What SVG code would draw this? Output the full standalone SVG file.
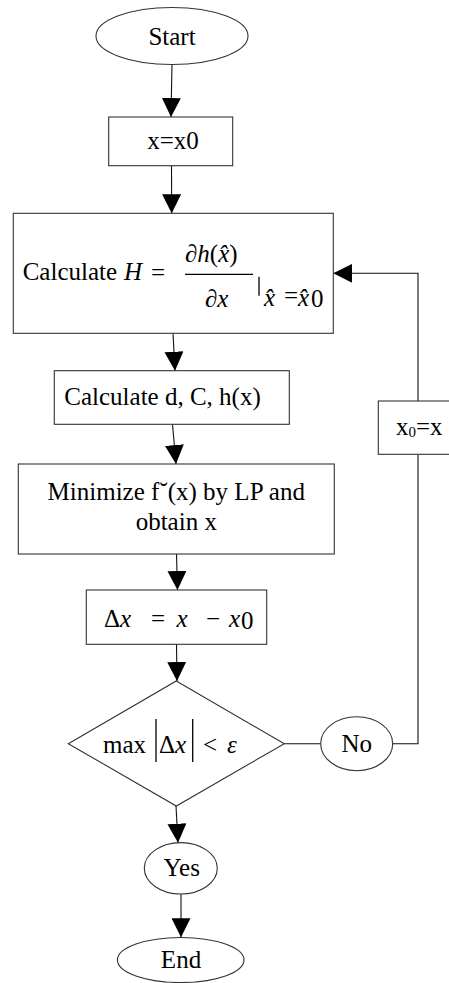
<svg xmlns="http://www.w3.org/2000/svg" width="449" height="983" viewBox="0 0 449 983">
<defs>
<marker id="ah" markerUnits="userSpaceOnUse" markerWidth="19" markerHeight="19" refX="18" refY="9" orient="auto" viewBox="0 0 18 18">
<path d="M0,0 L18,9 L0,18 z" fill="#000"/>
</marker>
<style>
.sh{fill:#fff;stroke:#333;stroke-width:1.1}
.ln{fill:none;stroke:#111;stroke-width:1.1}
.ar{fill:none;stroke:#111;stroke-width:1.1;marker-end:url(#ah)}
text{font-family:"Liberation Serif","Times New Roman",serif;font-size:25px;fill:#000}
.c{text-anchor:middle}
.i{font-style:italic}
</style>
</defs>
<rect width="449" height="983" fill="#fff"/>
<g id="connectors">
<path class="ar" d="M172,64 L171,117"/>
<path class="ar" d="M171.5,166 L171.7,213.3"/>
<path class="ar" d="M173,333.3 L175,370.7"/>
<path class="ar" d="M172.5,424.3 L176,464"/>
<path class="ar" d="M176.5,554 L177.5,590"/>
<path class="ar" d="M176.5,644.3 L177,681"/>
<path class="ar" d="M176,806 L178,842.7"/>
<path class="ar" d="M181,894 L181,937.3"/>
<path class="ln" d="M284.3,743.7 H320.7"/>
<path class="ln" d="M392.7,743.7 H418 V454.3"/>
<path class="ar" d="M418,401 V273.3 H333.3"/>
</g>
<g id="start">
<ellipse class="sh" cx="172" cy="36" rx="76" ry="28.5"/>
<text class="c" x="172" y="45">Start</text>
</g>
<g id="init">
<rect class="sh" x="108.7" y="117" width="124" height="48.7"/>
<text class="c" x="173" y="149">x=x0</text>
</g>
<g id="calcH">
<rect class="sh" x="13.3" y="213.3" width="320" height="120"/>
<text x="22.7" y="280" font-size="26">Calculate</text>
<text class="i" x="124" y="280" font-size="26">H</text>
<text x="151" y="281" font-size="28">=</text>
<text x="185" y="262" font-size="26"><tspan class="i">∂h</tspan>(<tspan class="i">x&#x302;</tspan>)</text>
<line x1="185" y1="274.3" x2="253" y2="274.3" stroke="#000" stroke-width="1.3"/>
<text class="i" x="205" y="306.7" font-size="26">∂x</text>
<line x1="259" y1="276.7" x2="259" y2="295.7" stroke="#000" stroke-width="1.3"/>
<text class="i" x="264" y="306" font-size="23">x&#x302;</text>
<text x="284" y="304" font-size="12">=</text>
<text class="i" x="298" y="306" font-size="23">x&#x302;</text>
<text x="311" y="307" font-size="11">0</text>
</g>
<g id="calcD">
<rect class="sh" x="54.3" y="370.7" width="235" height="53.6"/>
<text x="64.3" y="405">Calculate d, C, h(x)</text>
</g>
<g id="minimize">
<rect class="sh" x="18.3" y="464" width="316" height="90"/>
<text class="c" x="176.3" y="500">Minimize f˘(x) by LP and</text>
<text class="c" x="176.3" y="530">obtain x</text>
</g>
<g id="delta">
<rect class="sh" x="86.3" y="590" width="180.4" height="54.3"/>
<text x="104" y="627" font-size="29">Δ<tspan class="i">x</tspan></text>
<text x="151" y="627" font-size="29">=</text>
<text class="i" x="176.5" y="627" font-size="29">x</text>
<text x="206" y="627" font-size="29">−</text>
<text class="i" x="229" y="627" font-size="29">x</text>
<text x="241" y="629" font-size="20">0</text>
</g>
<g id="decision">
<path class="sh" d="M176.3,681 L284.3,743.7 L176.3,806 L68.3,743.7 Z"/>
<text x="103" y="753.3" font-size="27">max</text>
<line x1="156" y1="719" x2="156" y2="762" stroke="#000" stroke-width="1.3"/>
<text x="159" y="753.3" font-size="27">Δ<tspan class="i">x</tspan></text>
<line x1="192.7" y1="719" x2="192.7" y2="762" stroke="#000" stroke-width="1.3"/>
<text x="203" y="753.3" font-size="27">&lt;</text>
<text class="i" x="227" y="753.3" font-size="27">ε</text>
</g>
<g id="no">
<ellipse class="sh" cx="356.7" cy="743.7" rx="36" ry="27"/>
<text class="c" x="356.7" y="751.7">No</text>
</g>
<g id="update">
<rect class="sh" x="378.3" y="401" width="90" height="53.3"/>
<text x="396" y="435" font-size="21">x<tspan font-size="15" dy="2">0</tspan><tspan dy="-2">=x</tspan></text>
</g>
<g id="yes">
<ellipse class="sh" cx="180.8" cy="868.3" rx="36.5" ry="25.7"/>
<text class="c" x="181.7" y="876">Yes</text>
</g>
<g id="end">
<ellipse class="sh" cx="180.7" cy="960" rx="63.3" ry="22.5"/>
<text class="c" x="181" y="968.3">End</text>
</g>
</svg>
